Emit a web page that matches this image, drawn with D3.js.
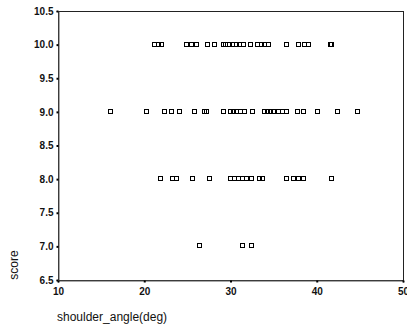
<!DOCTYPE html>
<html>
<head>
<meta charset="UTF-8">
<script src="https://d3js.org/d3.v7.min.js"></script>
<style>
  body { margin: 0; background: #fff; }
  .tick text { font-family: "Liberation Sans", Arial, sans-serif; font-size: 10px; font-weight: bold; fill: #111; }
  .axis-label { font-family: "Liberation Sans", Arial, sans-serif; font-size: 12px; fill: #111; }
</style>
</head>
<body>
<div id="chart"></div>
<script>
// shoulder angle (deg) observed at each score level
const anglesScore10 = [21.3, 21.7, 22.1, 25.0, 25.5, 26.1, 27.4, 28.2, 29.2, 29.5, 29.9, 30.3, 30.7, 31.1, 31.6, 32.4, 33.2, 33.6, 34.0, 34.5, 36.6, 38.0, 38.6, 39.1, 41.6, 41.8];
const anglesScore9 = [16.1, 20.3, 22.4, 23.2, 24.1, 25.9, 27.0, 27.3, 29.2, 30.0, 30.4, 30.8, 31.2, 31.7, 32.6, 34.0, 34.3, 34.7, 35.1, 35.6, 36.1, 36.6, 37.8, 38.5, 40.2, 42.5, 44.8];
const anglesScore8 = [21.9, 23.3, 23.8, 25.7, 27.6, 30.0, 30.5, 31.0, 31.4, 31.9, 32.5, 33.4, 33.8, 36.6, 37.4, 38.0, 38.5, 41.8];
const anglesScore7 = [26.5, 31.4, 32.5];
const scoreLevels = [10, 9, 8, 7];

const xTicks = [10, 20, 30, 40, 50];
const yTicks = [6.5, 7.0, 7.5, 8.0, 8.5, 9.0, 9.5, 10.0, 10.5];

const points = [];
[anglesScore10, anglesScore9, anglesScore8, anglesScore7].forEach((arr, i) => {
  arr.forEach(a => points.push({ angle: a, score: scoreLevels[i] }));
});

const width = 407, height = 328;
const plotLeft = 58, plotRight = 403, plotTop = 11, plotBottom = 280;

const svg = d3.select('#chart').append('svg')
  .attr('width', width)
  .attr('height', height);

const x = d3.scaleLinear().domain([10, 50]).range([plotLeft, plotRight]);
const y = d3.scaleLinear().domain([6.5, 10.5]).range([plotBottom, plotTop]);

// frame
svg.append('rect')
  .attr('x', plotLeft + 0.5).attr('y', plotTop + 0.5)
  .attr('width', plotRight - plotLeft).attr('height', plotBottom - plotTop)
  .attr('fill', 'none').attr('stroke', '#222').attr('stroke-width', 1);

svg.append('g')
  .attr('transform', `translate(0,${plotBottom + 0.5})`)
  .call(d3.axisBottom(x).tickValues(xTicks).tickSize(2).tickPadding(5).tickFormat(d3.format('d')))
  .call(g => g.select('.domain').attr('stroke', '#555'))
  .call(g => g.selectAll('.tick line').attr('stroke', '#000').attr('stroke-width', 2));

svg.append('g')
  .attr('transform', `translate(${plotLeft + 0.5},0)`)
  .call(d3.axisLeft(y).tickValues(yTicks).tickSize(2).tickPadding(3).tickFormat(d3.format('.1f')))
  .call(g => g.select('.domain').attr('stroke', '#555'))
  .call(g => g.selectAll('.tick line').attr('stroke', '#000').attr('stroke-width', 2));

svg.selectAll('.pt')
  .data(points)
  .enter()
  .append('rect')
  .attr('class', 'pt')
  .attr('x', d => Math.round(x(d.angle)) - 2.5)
  .attr('y', d => Math.round(y(d.score)) - 2.5)
  .attr('width', 4)
  .attr('height', 4)
  .attr('fill', 'none')
  .attr('stroke', '#000')
  .attr('stroke-width', 1);

svg.append('text')
  .attr('class', 'axis-label')
  .attr('transform', `translate(18,265) rotate(-90)`)
  .attr('text-anchor', 'middle')
  .text('score');

svg.append('text')
  .attr('class', 'axis-label')
  .attr('x', 57)
  .attr('y', 321)
  .text('shoulder_angle(deg)');
</script>
</body>
</html>
